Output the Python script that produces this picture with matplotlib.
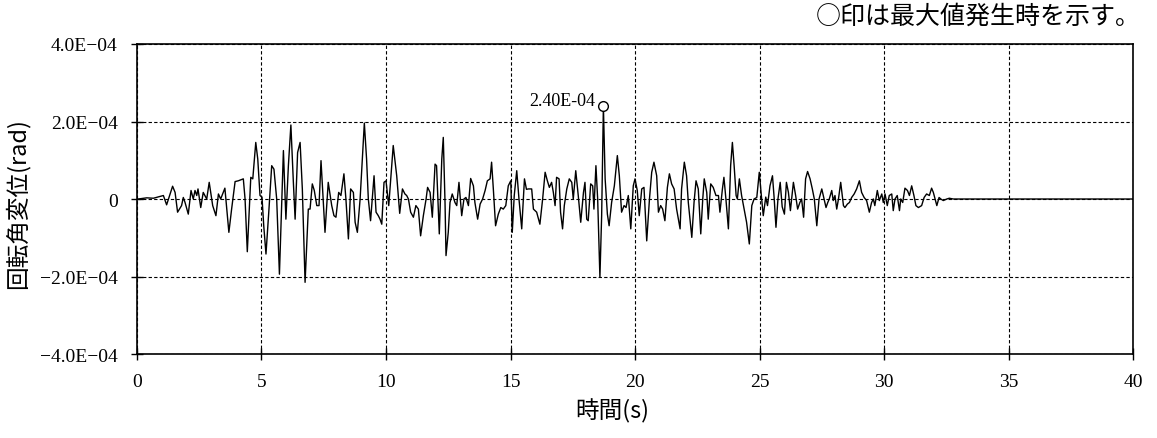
import numpy as np
import matplotlib.pyplot as plt

# ------------------------------- DATA ---------------------------------------
# time history of rotation (unit 1e-4 rad)
time_s = [
    0.00, 0.05, 0.39, 0.66, 1.06, 1.19, 1.43, 1.53, 1.63, 1.79, 1.86, 1.93,
    2.06, 2.17, 2.26, 2.33, 2.40, 2.45, 2.56, 2.66, 2.80, 2.90, 3.04, 3.17,
    3.27, 3.36, 3.53, 3.69, 3.80, 3.94, 4.07, 4.27, 4.34, 4.43, 4.57, 4.65,
    4.77, 4.85, 4.94, 5.02, 5.09, 5.18, 5.30, 5.41, 5.50, 5.61, 5.72, 5.88,
    5.98, 6.08, 6.18, 6.28, 6.35, 6.45, 6.55, 6.64, 6.75, 6.88, 6.95, 7.04,
    7.12, 7.22, 7.31, 7.39, 7.55, 7.68, 7.82, 7.91, 7.99, 8.10, 8.19, 8.31,
    8.39, 8.49, 8.58, 8.69, 8.76, 8.85, 8.96, 9.05, 9.13, 9.22, 9.29, 9.38,
    9.52, 9.60, 9.69, 9.76, 9.83, 9.92, 10.00, 10.11, 10.29, 10.43, 10.55, 10.66,
    10.76, 10.83, 10.90, 10.99, 11.10, 11.20, 11.30, 11.39, 11.50, 11.61, 11.67, 11.77,
    11.86, 11.97, 12.03, 12.14, 12.24, 12.30, 12.37, 12.41, 12.50, 12.57, 12.66, 12.77,
    12.84, 12.93, 13.04, 13.13, 13.21, 13.31, 13.40, 13.51, 13.57, 13.68, 13.78, 13.88,
    13.98, 14.07, 14.18, 14.24, 14.31, 14.40, 14.51, 14.61, 14.71, 14.81, 14.91, 15.01,
    15.07, 15.15, 15.25, 15.34, 15.45, 15.56, 15.64, 15.72, 15.85, 15.92, 16.05, 16.18,
    16.29, 16.39, 16.48, 16.56, 16.65, 16.72, 16.79, 16.85, 16.95, 17.01, 17.09, 17.16,
    17.26, 17.36, 17.46, 17.52, 17.62, 17.72, 17.82, 17.93, 17.99, 18.06, 18.12, 18.22,
    18.30, 18.35, 18.43, 18.50, 18.59, 18.66, 18.73, 18.80, 18.89, 18.96, 19.06, 19.17,
    19.29, 19.37, 19.46, 19.56, 19.64, 19.73, 19.83, 19.93, 20.00, 20.09, 20.17, 20.27,
    20.36, 20.47, 20.58, 20.67, 20.76, 20.87, 20.94, 21.03, 21.11, 21.20, 21.30, 21.38,
    21.47, 21.57, 21.67, 21.81, 21.87, 21.98, 22.07, 22.14, 22.28, 22.37, 22.45, 22.54,
    22.64, 22.72, 22.78, 22.88, 22.94, 23.04, 23.14, 23.25, 23.35, 23.41, 23.51, 23.57,
    23.65, 23.75, 23.84, 23.91, 23.98, 24.06, 24.11, 24.19, 24.28, 24.42, 24.48, 24.59,
    24.69, 24.78, 24.89, 24.99, 25.08, 25.15, 25.25, 25.32, 25.42, 25.52, 25.59, 25.66,
    25.74, 25.83, 25.91, 26.00, 26.08, 26.16, 26.24, 26.36, 26.45, 26.53, 26.62, 26.69,
    26.77, 26.85, 26.93, 27.03, 27.12, 27.20, 27.30, 27.39, 27.50, 27.59, 27.67, 27.74,
    27.80, 27.90, 27.96, 28.03, 28.10, 28.17, 28.26, 28.37, 28.43, 28.53, 28.61, 28.70,
    28.80, 28.90, 29.01, 29.10, 29.20, 29.30, 29.41, 29.50, 29.57, 29.63, 29.73, 29.81,
    29.91, 29.97, 30.04, 30.13, 30.21, 30.31, 30.37, 30.44, 30.53, 30.62, 30.67, 30.75,
    30.84, 30.94, 31.02, 31.11, 31.20, 31.28, 31.38, 31.51, 31.61, 31.71, 31.82, 31.91,
    31.98, 32.05, 32.12, 32.21, 32.28, 32.38, 32.52, 32.62, 32.78, 40.00,
]
rot_e4 = [
    0.00, 0.00, 0.03, 0.02, 0.09, -0.15, 0.33, 0.17, -0.34, -0.17, 0.04, -0.09,
    -0.39, 0.22, 0.00, 0.22, 0.09, 0.26, -0.22, 0.17, 0.00, 0.43, -0.17, -0.43,
    0.13, 0.00, 0.28, -0.86, -0.26, 0.45, 0.47, 0.52, 0.00, -1.36, 0.56, 0.52,
    1.46, 1.03, 0.09, 0.05, -0.69, -1.42, -0.26, 0.86, 0.77, 0.00, -1.94, 1.25,
    -0.52, 0.86, 1.91, 0.43, -0.52, 1.20, 1.46, 0.26, -2.15, -0.26, -0.26, 0.39,
    0.22, -0.17, -0.17, 0.99, -0.86, 0.43, -0.17, -0.43, -0.47, 0.17, 0.09, 0.65,
    0.00, -1.03, 0.26, 0.17, -0.60, -0.86, 0.00, 1.03, 1.96, 1.03, 0.00, -0.56,
    0.60, -0.34, -0.43, -0.52, -0.65, 0.43, 0.47, -0.17, 1.38, 0.60, -0.37, 0.26,
    0.13, 0.09, 0.00, -0.34, -0.47, -0.17, -0.26, -0.95, -0.43, 0.00, 0.30, 0.17,
    -0.47, 0.90, 0.86, -0.90, 1.03, 1.59, -0.09, -1.46, -0.86, -0.09, 0.13, -0.09,
    -0.17, 0.43, -0.43, 0.00, 0.04, -0.17, 0.53, 0.34, -0.09, -0.52, -0.13, 0.00,
    0.22, 0.47, 0.52, 0.95, 0.26, -0.69, -0.39, -0.22, -0.26, -0.17, 0.34, 0.47,
    -0.86, 0.09, 0.73, 0.00, -0.77, 0.52, 0.25, 0.26, 0.26, -0.26, -0.34, -0.65,
    0.00, 0.69, 0.47, 0.30, 0.43, 0.17, -0.17, 0.56, 0.52, -0.34, -0.77, -0.17,
    0.26, 0.52, 0.43, 0.00, 0.73, 0.09, -0.60, 0.17, 0.43, -0.52, -0.56, 0.39,
    0.34, -0.26, 0.86, 0.00, -2.02, -0.43, 2.40, 0.52, -0.39, -0.69, -0.09, 0.34,
    1.12, 0.60, -0.34, -0.17, -0.22, 0.09, -0.77, 0.34, 0.52, 0.22, -0.43, 0.26,
    0.30, -1.08, 0.00, 0.69, 0.95, 0.60, -0.34, -0.17, -0.26, -0.56, 0.30, 0.65,
    0.39, 0.26, -0.26, -0.77, 0.26, 0.95, 0.60, -0.09, -0.99, -0.09, 0.47, 0.26,
    -0.90, 0.00, 0.52, 0.17, -0.52, 0.39, 0.30, 0.09, 0.09, -0.34, 0.26, 0.56,
    0.00, -0.77, 0.86, 1.46, 0.86, 0.09, 0.00, 0.52, 0.09, -0.39, -0.60, -1.16,
    -0.17, 0.00, 0.04, 0.69, 0.04, -0.43, 0.05, -0.17, 0.34, 0.60, 0.00, -0.73,
    0.00, 0.43, -0.20, -0.39, 0.43, 0.17, -0.30, 0.43, 0.09, -0.26, -0.09, 0.00,
    -0.47, 0.52, 0.71, 0.52, 0.26, 0.00, -0.69, 0.00, 0.26, 0.00, -0.22, -0.09,
    0.00, 0.22, -0.04, 0.09, -0.26, 0.00, 0.43, -0.17, -0.22, -0.13, -0.09, 0.04,
    0.13, 0.26, 0.47, 0.17, 0.04, -0.04, -0.34, -0.09, 0.00, -0.17, 0.22, -0.04,
    0.13, -0.09, 0.13, -0.17, 0.09, 0.13, -0.30, 0.00, 0.09, -0.30, 0.00, -0.09,
    0.28, 0.22, 0.09, 0.34, 0.09, -0.17, -0.22, -0.17, 0.04, 0.13, 0.09, 0.28,
    0.17, 0.00, -0.17, 0.04, 0.00, -0.04, 0.00, 0.02, 0.00, 0.00,
]

peak_time = 18.73
peak_label = "2.40E-04"

y_ticks = [4e-4, 2e-4, 0, -2e-4, -4e-4]
y_tick_labels = ["4.0E\u221204", "2.0E\u221204", "0", "\u22122.0E\u221204", "\u22124.0E\u221204"]
x_ticks = [0, 5, 10, 15, 20, 25, 30, 35, 40]

# ------------------------------- PLOTTING -----------------------------------
plt.rcParams['font.family'] = ['Noto Sans CJK JP', 'DejaVu Sans']

t = np.array(time_s)
rot = np.array(rot_e4) * 1e-4

fig = plt.figure(figsize=(11.57, 4.39), dpi=100)
ax = fig.add_axes([0.1184, 0.1913, 0.8609, 0.7062])

ax.plot(t, rot, color="black", linewidth=1.0)

# maximum marker
ipk = int(np.argmin(np.abs(t - peak_time)))
ax.plot(t[ipk], rot[ipk], "o", ms=7, mfc="white", mec="black", mew=1.0, zorder=5)
ax.annotate(peak_label, (t[ipk], rot[ipk]), xytext=(-6, 4), textcoords="offset points",
            ha="right", va="center", fontsize=13, family="Liberation Serif")

ax.set_xlim(0, 40)
ax.set_ylim(-4e-4, 4e-4)
ax.set_xticks(x_ticks)
ax.set_yticks(y_ticks)
ax.set_yticklabels(y_tick_labels)
for lab in ax.get_xticklabels() + ax.get_yticklabels():
    lab.set_family("Liberation Serif")
    lab.set_fontsize(14)

ax.tick_params(direction="inout", length=8, width=1.0, colors="black", pad=10)
ax.grid(True, color="black", linestyle=(0, (3, 2)), linewidth=0.8)
for s in ax.spines.values():
    s.set_linewidth(1.2)

ax.set_xlabel("時間(s)", fontsize=17)
ax.set_ylabel("回転角変位(rad)", fontsize=17)
ax.xaxis.set_label_coords(0.477, -0.142)
ax.yaxis.set_label_coords(-0.108, 0.487)

fig.text(0.986, 0.963, "○印は最大値発生時を示す。", ha="right", va="center", fontsize=18)

fig.savefig("out.png", dpi=100)
plt.close(fig)
